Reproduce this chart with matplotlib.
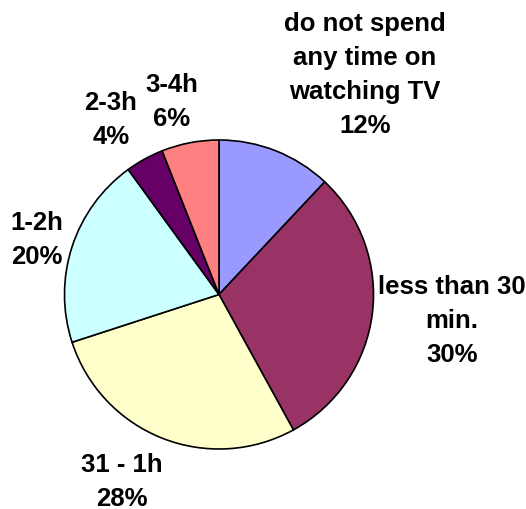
import matplotlib
matplotlib.use("Agg")
import matplotlib.pyplot as plt

categories = ["do not spend\nany time on\nwatching TV", "less than 30\nmin.", "31 - 1h", "1-2h", "2-3h", "3-4h"]
values = [12, 30, 28, 20, 4, 6]
colors = ["#9999FF", "#993366", "#FFFFCC", "#CCFFFF", "#660066", "#FF8080"]

W, H = 526, 510
fig = plt.figure(figsize=(W / 100, H / 100), dpi=100)
ax = fig.add_axes([0, 0, 1, 1])
ax.set_xlim(0, W)
ax.set_ylim(0, H)
ax.set_aspect("equal")
ax.axis("off")

cx, cy, r = 219, H - 295.5, 154.5
ax.pie(values, colors=colors, startangle=90, counterclock=False,
       center=(cx, cy), radius=r,
       wedgeprops=dict(edgecolor="black", linewidth=1.2))
ax.set_xlim(0, W)
ax.set_ylim(0, H)

# label positions (pixels from top-left)
label_pos = [(365, 75), (452, 321), (122, 482), (37, 240), (111, 120), (172, 102)]
for cat, v, (px, py) in zip(categories, values, label_pos):
    ax.text(px, H - py, f"{cat}\n{v}%", ha="center", va="center",
            fontsize=18.5, fontweight="bold", family="Liberation Sans",
            linespacing=1.52, color="black")

fig.savefig("out.png", dpi=100)
